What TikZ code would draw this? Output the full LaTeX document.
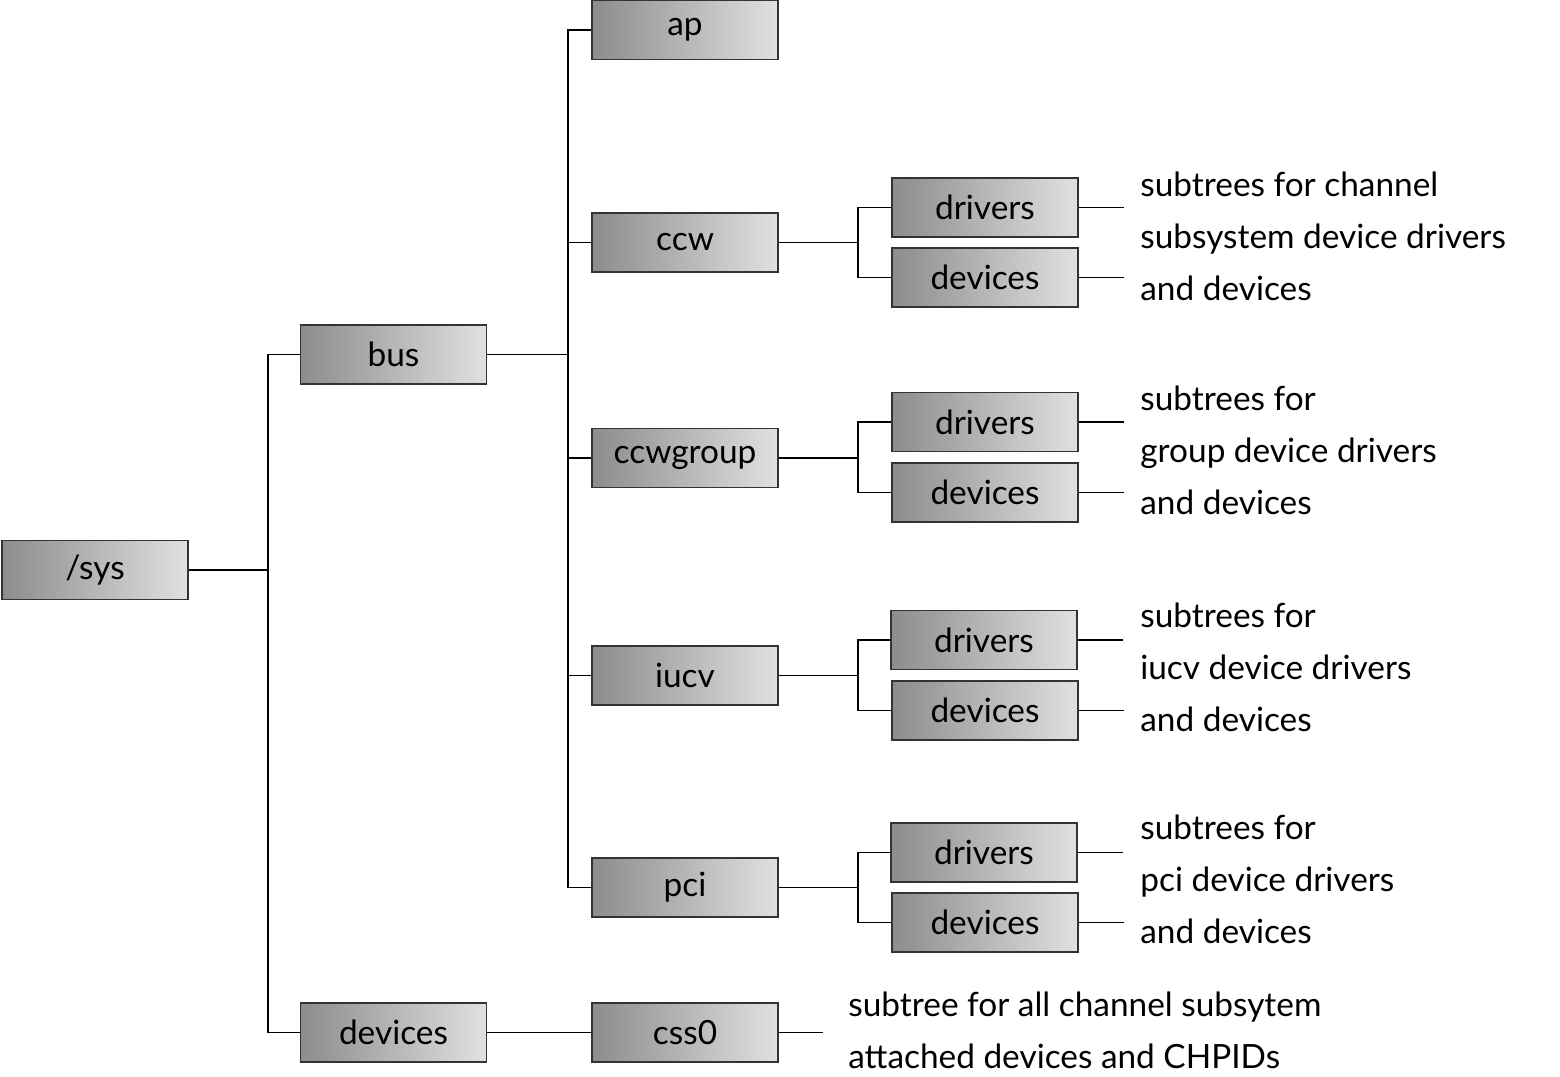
\documentclass[tikz,border=0pt]{standalone}
\usepackage{fontspec}
\setmainfont{Lato}
\begin{document}
\begin{tikzpicture}[x=0.02cm,y=-0.02cm,
  box/.style={draw=black!80,line width=0.8pt,left color=black!45,right color=black!12,
    minimum width=3.72cm,minimum height=1.18cm,inner sep=0pt,font=\fontsize{19}{23}\selectfont},
  lbl/.style={anchor=north west,align=left,inner sep=0pt,font=\fontsize{19}{29.5}\selectfont},
  ln/.style={line width=0.9pt}]
\useasboundingbox (0,0) rectangle (1560,1077);
\node[box] (sys) at (95,570) {/sys};
\node[box] (bus) at (393.5,354.5) {bus};
\node[box] (dev) at (393.5,1032.5) {devices};
\node[box] (ap) at (685,30) {ap};
\node[box] (ccw) at (685,242.5) {ccw};
\node[box] (ccwg) at (685,458) {ccwgroup};
\node[box] (iucv) at (685,675.5) {iucv};
\node[box] (pci) at (685,887.5) {pci};
\node[box] (css) at (685,1032.5) {css0};
\node[box] (d1) at (985,207.5) {drivers};
\node[box] (v1) at (985,277.5) {devices};
\node[box] (d2) at (985,422) {drivers};
\node[box] (v2) at (985,492.5) {devices};
\node[box] (d3) at (984,640) {drivers};
\node[box] (v3) at (985,710.5) {devices};
\node[box] (d4) at (984,852.5) {drivers};
\node[box] (v4) at (985,922.5) {devices};
\coordinate (j0) at (268,570);
\coordinate (j1) at (568,354.5);
\coordinate (j2) at (858,242.5);
\coordinate (j3) at (858,458);
\coordinate (j4) at (858,675.5);
\coordinate (j5) at (858,887.5);
\draw[ln] (sys.east) -- (j0) |- (bus.west); \draw[ln] (j0) |- (dev.west);
\draw[ln] (bus.east) -- (j1);
\foreach \n in {ap,ccw,ccwg,iucv,pci} \draw[ln] (j1) |- (\n.west);
\draw[ln] (ccw.east) -- (j2) |- (d1.west); \draw[ln] (j2) |- (v1.west);
\draw[ln] (ccwg.east) -- (j3) |- (d2.west); \draw[ln] (j3) |- (v2.west);
\draw[ln] (iucv.east) -- (j4) |- (d3.west); \draw[ln] (j4) |- (v3.west);
\draw[ln] (pci.east) -- (j5) |- (d4.west); \draw[ln] (j5) |- (v4.west);
\draw[ln] (dev.east) -- (css.west);
\foreach \n in {d1,v1,d2,v2,d3,v3,d4,v4} \draw[ln] (\n.east) -- ++(45,0);
\draw[ln] (css.east) -- ++(44,0);
\node[lbl] (t1) at (1140,172) {subtrees for channel\\subsystem device drivers\\and devices};
\node[lbl] (t2) at (1140,386) {subtrees for\\group device drivers\\and devices};
\node[lbl] (t3) at (1140,603) {subtrees for\\iucv device drivers\\and devices};
\node[lbl] (t4) at (1140,815) {subtrees for\\pci device drivers\\and devices};
\node[lbl] (t5) at (848,992) {subtree for all channel subsytem\\attached devices and CHPIDs};
\end{tikzpicture}
\end{document}
